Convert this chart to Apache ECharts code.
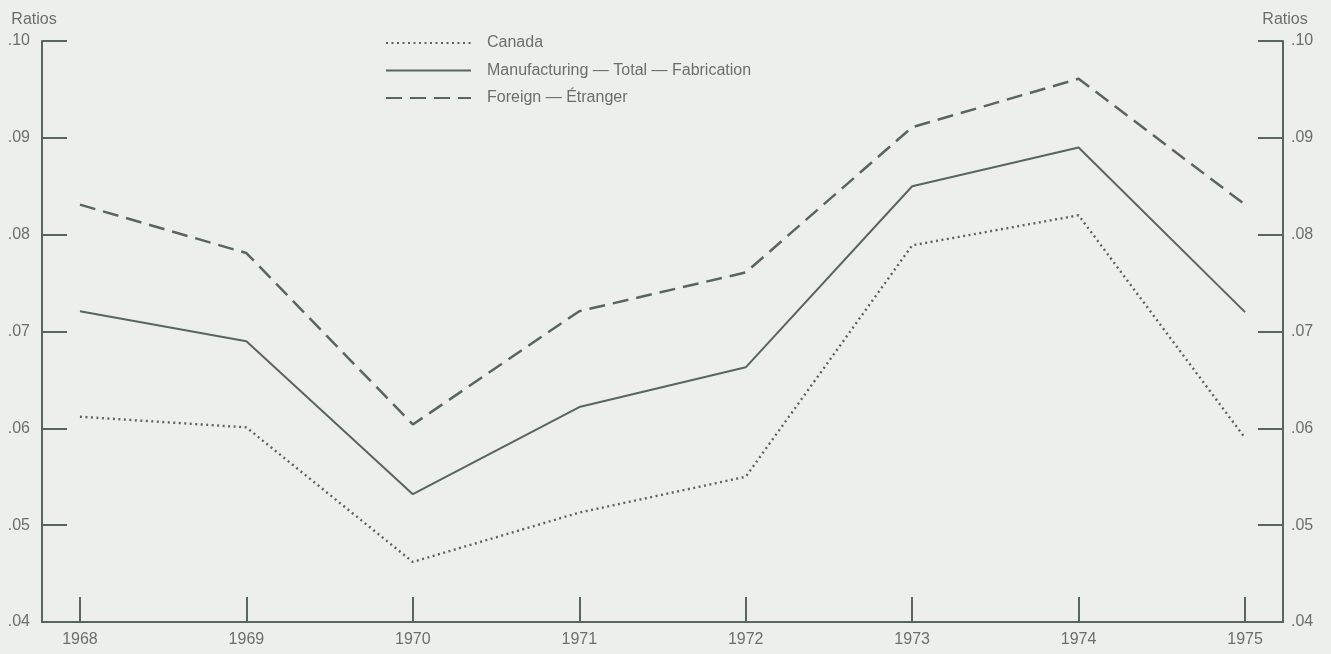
<!DOCTYPE html>
<html>
<head>
<meta charset="utf-8">
<script src="https://cdn.jsdelivr.net/npm/echarts@6/dist/echarts.min.js"></script>
<style>
	html, body { margin: 0; padding: 0; background: #edefeb; }
	#chart { width: 1331px; height: 654px; }
</style>
</head>
<body>
<div id="chart"></div>
<script>
// years on the x axis
const years = [1968, 1969, 1970, 1971, 1972, 1973, 1974, 1975];
const yTicks = [0.04, 0.05, 0.06, 0.07, 0.08, 0.09, 0.10];
// ratios
const canada = [0.0612, 0.0601, 0.0462, 0.0513, 0.0550, 0.0789, 0.0820, 0.0590];
const manufacturing = [0.0721, 0.0690, 0.0532, 0.0622, 0.0663, 0.0850, 0.0890, 0.0720];
const foreign = [0.0831, 0.0781, 0.0604, 0.0721, 0.0761, 0.0911, 0.0961, 0.0831];

const ink = '#58675d';
const txt = '#6b6f6b';
const font = 'Liberation Sans';

const pairs = arr => arr.map((v, i) => [years[i], v]);
const fmt = v => v.toFixed(2).slice(1);

const yAxisBase = {
	type: 'value',
	min: yTicks[0],
	max: yTicks[yTicks.length - 1],
	interval: 0.01,
	name: 'Ratios',
	nameLocation: 'end',
	nameGap: 13,
	axisLine: { show: true, lineStyle: { color: ink, width: 2 } },
	axisTick: { show: true, inside: true, length: 25, lineStyle: { color: ink, width: 2 } },
	splitLine: { show: false },
};

const option = {
	backgroundColor: '#edefeb',
	animation: false,
	grid: { left: 42, right: 48, top: 41, bottom: 32 },
	legend: {
		orient: 'vertical',
		left: 385,
		top: 35,
		padding: 0,
		itemWidth: 85,
		itemHeight: 16,
		itemGap: 11.5,
		itemStyle: { opacity: 0 },
		textStyle: { color: txt, fontSize: 16, fontFamily: font, padding: [0, 0, 0, 11] },
		data: ['Canada', 'Manufacturing — Total — Fabrication', 'Foreign — Étranger'],
	},
	xAxis: {
		type: 'value',
		min: 1967.772,
		max: 1975.228,
		axisLine: { lineStyle: { color: ink, width: 2 } },
		axisTick: { show: true, inside: true, length: 25, customValues: years, lineStyle: { color: ink, width: 2 } },
		axisLabel: { customValues: years, color: txt, fontSize: 16, fontFamily: font, margin: 10, formatter: v => String(Math.round(v)) },
		splitLine: { show: false },
	},
	yAxis: [
		Object.assign({}, yAxisBase, {
			position: 'left',
			nameTextStyle: { color: txt, fontSize: 16, fontFamily: font, padding: [0, 16, 0, 0] },
			axisLabel: { color: txt, fontSize: 16, fontFamily: font, margin: 12, formatter: fmt },
		}),
		Object.assign({}, yAxisBase, {
			position: 'right',
			nameTextStyle: { color: txt, fontSize: 16, fontFamily: font, padding: [0, 0, 0, 4] },
			axisLabel: { color: txt, fontSize: 16, fontFamily: font, margin: 8, formatter: fmt },
		}),
	],
	series: [
		{
			name: 'Canada',
			type: 'line',
			data: pairs(canada),
			symbol: 'none',
			lineStyle: { color: ink, width: 2.4, type: [2, 3.5] },
			itemStyle: { color: ink },
		},
		{
			name: 'Manufacturing — Total — Fabrication',
			type: 'line',
			data: pairs(manufacturing),
			symbol: 'none',
			lineStyle: { color: ink, width: 2 },
			itemStyle: { color: ink },
		},
		{
			name: 'Foreign — Étranger',
			type: 'line',
			data: pairs(foreign),
			symbol: 'none',
			lineStyle: { color: ink, width: 2.5, type: [16, 8] },
			itemStyle: { color: ink },
		},
	],
};

const chart = echarts.init(document.getElementById('chart'));
chart.setOption(option);
</script>
</body>
</html>
